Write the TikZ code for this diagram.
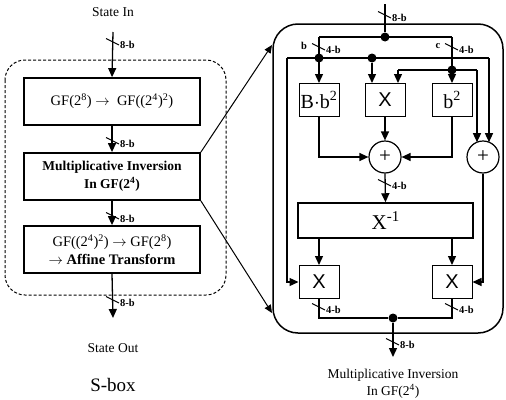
\documentclass[tikz,border=0pt]{standalone}
\usepackage{fontspec}
\setmainfont{Liberation Serif}
\newfontfamily\sansx{Liberation Sans}
\usetikzlibrary{arrows.meta,calc}
\newcommand{\busmark}[4]{%
  \draw[tick] (#1-7,#2-3.5) -- (#1+6,#2+3);
  \node[lab] (#4) at (#1+6,#2+2.5) {#3};}
\begin{document}
\begin{tikzpicture}[x=1pt,y=-1pt,
  wire/.style={line width=1.3pt},
  arr/.style={wire,-{Triangle[width=8pt,length=9pt]}},
  zarr/.style={line width=1pt,-{Triangle[width=7pt,length=8pt]}},
  lbox/.style={draw,line width=1.8pt,minimum width=176pt,minimum height=47pt,inner sep=0pt,align=center,font=\fontsize{14.5}{18}\selectfont},
  sbox/.style={draw,line width=1pt,minimum width=40pt,minimum height=33pt,inner sep=0pt,font=\fontsize{20}{20}\selectfont},
  adder/.style={draw,circle,line width=1.2pt,minimum size=32pt,inner sep=0pt,font=\fontsize{21}{21}\selectfont},
  jdot/.style={circle,fill,minimum size=9pt,inner sep=0pt},
  lab/.style={font=\bfseries\fontsize{10.5}{11}\selectfont,inner sep=1pt,anchor=west},
  captxt/.style={font=\fontsize{13.5}{15}\selectfont,align=center,inner sep=0pt},
  tick/.style={line width=1pt}
]
\useasboundingbox (0,0) rectangle (506,399);

% ---------------- left: S-box ----------------
\node[captxt] (sin) at (113,12) {State In};
\coordinate (sinTop) at (113,32);
\draw[line width=1pt,dash pattern=on 3pt off 2pt,rounded corners=20pt] (5,60) rectangle (226,295);
\node[lbox] (g1) at (112,101.5) {GF(2\textsuperscript{8}) $\rightarrow$\ \ GF((2\textsuperscript{4})\textsuperscript{2})};
\node[lbox,font=\bfseries\fontsize{13.5}{18}\selectfont] (g2) at (112,176.5) {Multiplicative Inversion\\In GF(2\textsuperscript{4})};
\node[lbox] (g3) at (112,249.5) {GF((2\textsuperscript{4})\textsuperscript{2}) $\rightarrow$ GF(2\textsuperscript{8})\\$\rightarrow$ \textbf{Affine Transform}};
\coordinate (sout) at (113,318);
\draw[arr] (sinTop) -- (g1.north);
\draw[arr] (g1.south) -- (g2.north);
\draw[arr] (g2.south) -- (g3.north);
\draw[arr] (g3.south) -- (sout);
\busmark{113}{42}{8-b}{l1}
\busmark{113}{141}{8-b}{l2}
\busmark{113}{216}{8-b}{l3}
\busmark{113}{300}{8-b}{l4}
\node[captxt] (sout-t) at (113,348) {State Out};
\node[captxt,font=\fontsize{19}{20}\selectfont] (sbox-t) at (113,385) {S-box};

% ---------------- right: inversion ----------------
\node[draw,line width=1.5pt,rounded corners=25pt,minimum width=230pt,minimum height=309pt,inner sep=0pt] (big) at (388,178.5) {};
\coordinate (zt) at (272,45);
\coordinate (zb) at (272,313);
\draw[zarr] (g2.north east) -- (zt);
\draw[zarr] (g2.south east) -- (zb);

\coordinate (rin) at (385,4);
\node[jdot] (j0) at (385,37) {};
\node[jdot] (jb) at (319,58) {};
\node[jdot] (jx) at (372,58) {};
\node[jdot] (jc) at (452,70) {};
\coordinate (bl) at (287,58);
\coordinate (br) at (489,58);
\coordinate (cl) at (398,70);
\coordinate (cr) at (477,70);
\node[sbox] (bb) at (319,100) {B$\cdot$b\textsuperscript{2}};
\node[sbox,font=\sansx\fontsize{20}{20}\selectfont] (mx) at (385,100) {X};
\node[sbox] (b2) at (452,100) {b\textsuperscript{2}};
\node[adder] (a1) at (385,157) {+};
\node[adder] (a2) at (483,157) {+};
\node[draw,line width=1.5pt,minimum width=175pt,minimum height=35pt,inner sep=0pt,font=\fontsize{21}{21}\selectfont] (inv) at (385.5,220.5) {X\raisebox{0.42em}{\fontsize{15}{15}\selectfont -1}};
\node[sbox,font=\sansx\fontsize{20}{20}\selectfont] (m1) at (319,282) {X};
\node[sbox,font=\sansx\fontsize{20}{20}\selectfont] (m2) at (452,282) {X};
\node[jdot] (jo) at (393,318) {};
\coordinate (rout) at (393,357);

\draw[wire] (rin) -- (j0);
\draw[wire] (jb |- j0) -- (jc |- j0);
\draw[arr] (jb |- j0) -- (bb.north);
\draw[arr] (jc |- j0) -- (b2.north);
\draw[wire] (bl) -- (br);
\draw[arr] (bl) |- (m1.west);
\draw[arr] (br) -- ($(a2.center)+(6,-14.8)$);
\draw[arr] (jx) -- (jx |- mx.north);
\draw[wire] (cl) -- (cr);
\draw[arr] (cl) -- (cl |- mx.north);
\draw[arr] (cr) -- ($(a2.center)+(-6,-14.8)$);
\draw[arr] (bb.south) |- (a1.west);
\draw[arr] (mx.south) -- (a1.north);
\draw[arr] (b2.south) |- (a1.east);
\draw[arr] (a1.south) -- (inv.north);
\draw[arr] (inv.south -| m1) -- (m1.north);
\draw[arr] (inv.south -| m2) -- (m2.north);
\draw[arr] (a2.south) |- (m2.east);
\draw[wire] (m1.south) |- (jo) -| (m2.south);
\draw[arr] (jo) -- (rout);

\busmark{385}{15}{8-b}{r1}
\busmark{319}{47}{4-b}{r2}
\busmark{452}{47}{4-b}{r3}
\busmark{385}{183}{4-b}{r4}
\busmark{319}{307}{4-b}{r5}
\busmark{452}{307}{4-b}{r6}
\busmark{393}{342}{8-b}{r7}
\node[lab,anchor=center] (lb) at (304,46) {b};
\node[lab,anchor=center] (lc) at (438,46) {c};

\node[captxt] (cap1) at (393,375) {Multiplicative Inversion};
\node[captxt] (cap2) at (393,391) {In GF(2\textsuperscript{4})};
\end{tikzpicture}
\end{document}
